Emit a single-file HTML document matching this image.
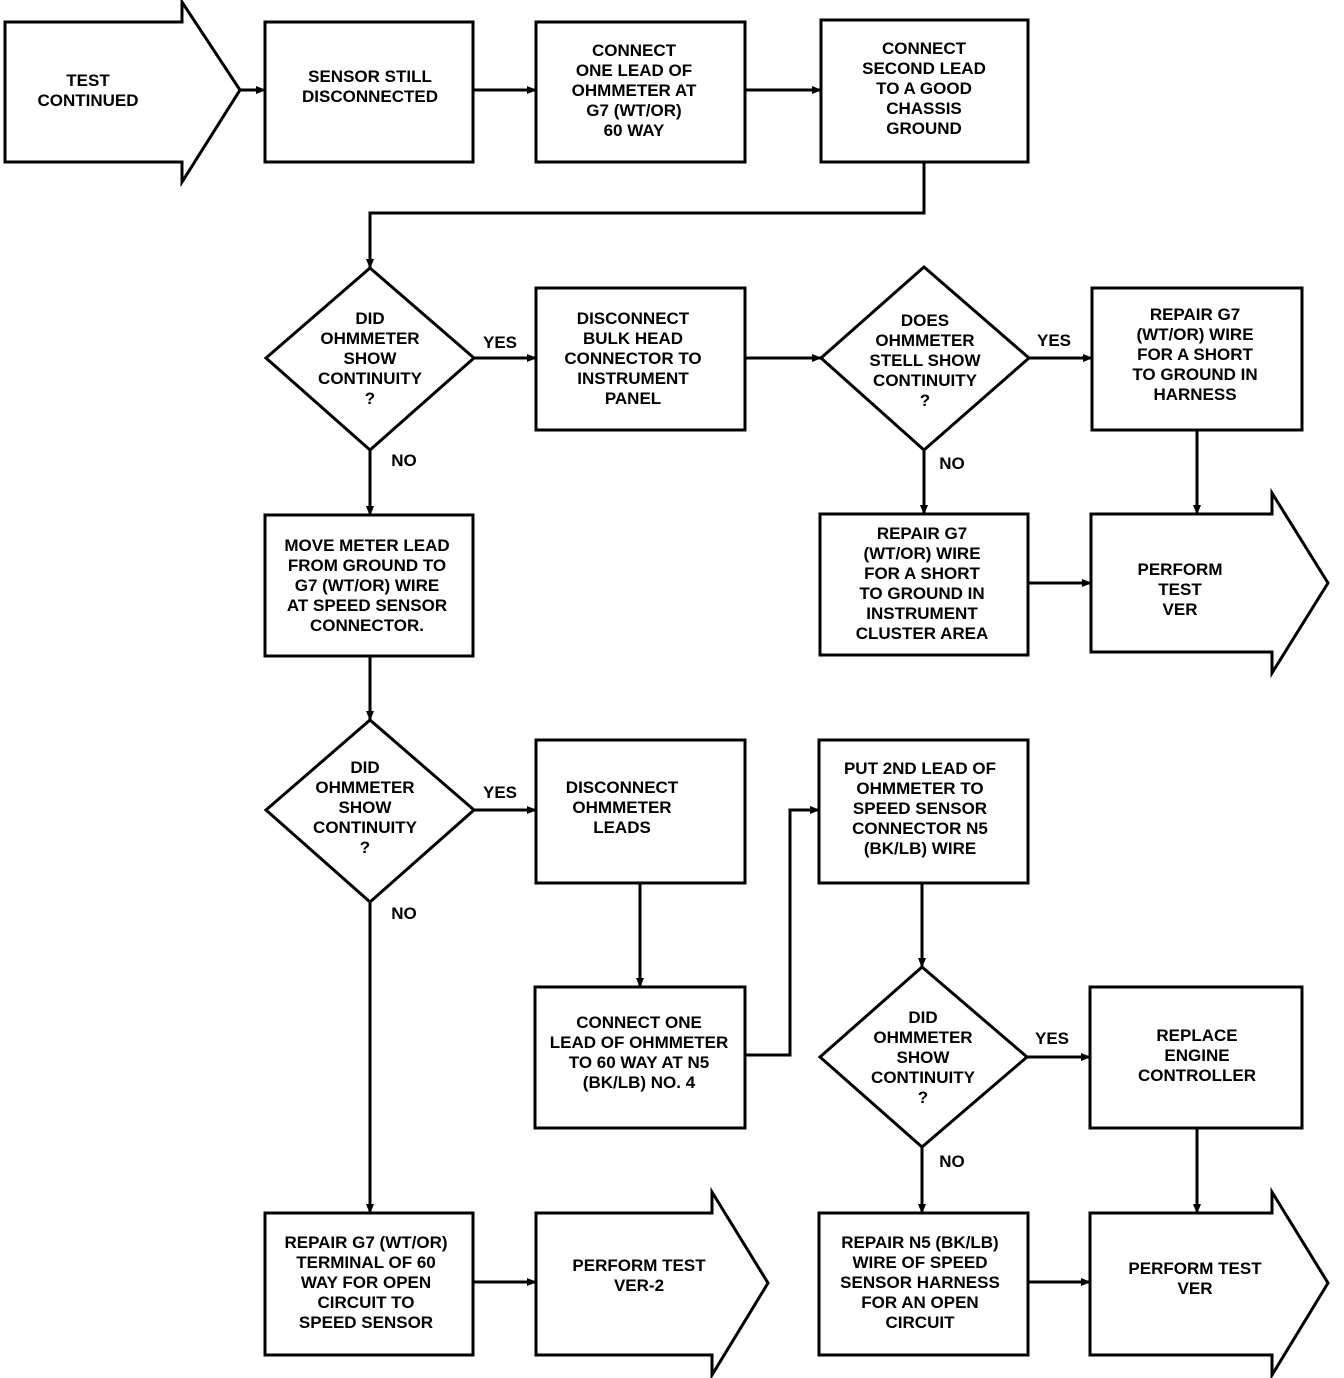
<!DOCTYPE html>
<html><head><meta charset="utf-8"><style>
html,body{margin:0;padding:0;background:#fff}
svg{display:block}
text{font-family:"Liberation Sans",Arial,sans-serif;font-weight:bold;font-size:17px;fill:#000;text-anchor:middle}
.s{fill:#fff;stroke:#000;stroke-width:3}
.l{fill:none;stroke:#000;stroke-width:3}
</style></head><body>
<svg width="1344" height="1378" viewBox="0 0 1344 1378" xmlns="http://www.w3.org/2000/svg">
<defs><marker id="a" markerWidth="10" markerHeight="10" refX="9" refY="5" orient="auto" markerUnits="userSpaceOnUse"><path d="M0,1 L10,5 L0,9 z" fill="#000"/></marker></defs>

<!-- shapes -->
<path class="s" d="M5,22 H182 V2 L240,90 L182,182 V162 H5 Z"/>
<rect class="s" x="265" y="22" width="208" height="140"/>
<rect class="s" x="536" y="22" width="209" height="140"/>
<rect class="s" x="821" y="20" width="207" height="142"/>

<path class="s" d="M370,268 L474,358 L370,450 L266,358 Z"/>
<rect class="s" x="536" y="288" width="209" height="142"/>
<path class="s" d="M924,267 L1029,358 L924,450 L821,358 Z"/>
<rect class="s" x="1092" y="288" width="210" height="142"/>

<rect class="s" x="265" y="515" width="208" height="141"/>
<rect class="s" x="820" y="514" width="208" height="141"/>
<path class="s" d="M1091,514 H1272 V493 L1328,583 L1272,673 V652 H1091 Z"/>

<path class="s" d="M370,720 L474,810 L370,902 L266,810 Z"/>
<rect class="s" x="536" y="740" width="209" height="143"/>
<rect class="s" x="819" y="740" width="209" height="143"/>
<rect class="s" x="535" y="987" width="210" height="141"/>
<path class="s" d="M922,967 L1027,1057 L922,1147 L820,1057 Z"/>
<rect class="s" x="1090" y="987" width="212" height="141"/>

<rect class="s" x="265" y="1213" width="208" height="142"/>
<path class="s" d="M536,1213 H712 V1192 L768,1283 L712,1375 V1355 H536 Z"/>
<rect class="s" x="819" y="1213" width="209" height="142"/>
<path class="s" d="M1090,1213 H1272 V1192 L1328,1283 L1272,1375 V1355 H1090 Z"/>

<!-- connectors -->
<path class="l" d="M240,90 H265" marker-end="url(#a)"/>
<path class="l" d="M473,90 H536" marker-end="url(#a)"/>
<path class="l" d="M745,90 H821" marker-end="url(#a)"/>
<path class="l" d="M924,162 V213 H370 V268" marker-end="url(#a)"/>
<path class="l" d="M474,358 H536" marker-end="url(#a)"/>
<path class="l" d="M745,358 H821" marker-end="url(#a)"/>
<path class="l" d="M1029,358 H1092" marker-end="url(#a)"/>
<path class="l" d="M1197,430 V514" marker-end="url(#a)"/>
<path class="l" d="M924,450 V514" marker-end="url(#a)"/>
<path class="l" d="M1028,583 H1091" marker-end="url(#a)"/>
<path class="l" d="M370,450 V515" marker-end="url(#a)"/>
<path class="l" d="M370,656 V720" marker-end="url(#a)"/>
<path class="l" d="M474,810 H536" marker-end="url(#a)"/>
<path class="l" d="M640,883 V987" marker-end="url(#a)"/>
<path class="l" d="M745,1055 H790 V810 H819" marker-end="url(#a)"/>
<path class="l" d="M922,883 V967" marker-end="url(#a)"/>
<path class="l" d="M1027,1057 H1090" marker-end="url(#a)"/>
<path class="l" d="M1197,1128 V1213" marker-end="url(#a)"/>
<path class="l" d="M922,1147 V1213" marker-end="url(#a)"/>
<path class="l" d="M1028,1282 H1090" marker-end="url(#a)"/>
<path class="l" d="M370,902 V1213" marker-end="url(#a)"/>
<path class="l" d="M473,1282 H536" marker-end="url(#a)"/>

<!-- labels -->
<text x="500" y="348">YES</text>
<text x="404" y="466">NO</text>
<text x="1054" y="346">YES</text>
<text x="952" y="469">NO</text>
<text x="500" y="798">YES</text>
<text x="404" y="919">NO</text>
<text x="1052" y="1044">YES</text>
<text x="952" y="1167">NO</text>

<!-- text -->
<text x="88" y="86">TEST</text><text x="88" y="106">CONTINUED</text>
<text x="370" y="82">SENSOR STILL</text><text x="370" y="102">DISCONNECTED</text>
<text x="634" y="56">CONNECT</text><text x="634" y="76">ONE LEAD OF</text><text x="634" y="96">OHMMETER AT</text><text x="634" y="116">G7 (WT/OR)</text><text x="634" y="136">60 WAY</text>
<text x="924" y="54">CONNECT</text><text x="924" y="74">SECOND LEAD</text><text x="924" y="94">TO A GOOD</text><text x="924" y="114">CHASSIS</text><text x="924" y="134">GROUND</text>

<text x="370" y="324">DID</text><text x="370" y="344">OHMMETER</text><text x="370" y="364">SHOW</text><text x="370" y="384">CONTINUITY</text><text x="370" y="404">?</text>
<text x="633" y="324">DISCONNECT</text><text x="633" y="344">BULK HEAD</text><text x="633" y="364">CONNECTOR TO</text><text x="633" y="384">INSTRUMENT</text><text x="633" y="404">PANEL</text>
<text x="925" y="326">DOES</text><text x="925" y="346">OHMMETER</text><text x="925" y="366">STELL SHOW</text><text x="925" y="386">CONTINUITY</text><text x="925" y="406">?</text>
<text x="1195" y="320">REPAIR G7</text><text x="1195" y="340">(WT/OR) WIRE</text><text x="1195" y="360">FOR A SHORT</text><text x="1195" y="380">TO GROUND IN</text><text x="1195" y="400">HARNESS</text>

<text x="367" y="551">MOVE METER LEAD</text><text x="367" y="571">FROM GROUND TO</text><text x="367" y="591">G7 (WT/OR) WIRE</text><text x="367" y="611">AT SPEED SENSOR</text><text x="367" y="631">CONNECTOR.</text>
<text x="922" y="539">REPAIR G7</text><text x="922" y="559">(WT/OR) WIRE</text><text x="922" y="579">FOR A SHORT</text><text x="922" y="599">TO GROUND IN</text><text x="922" y="619">INSTRUMENT</text><text x="922" y="639">CLUSTER AREA</text>
<text x="1180" y="575">PERFORM</text><text x="1180" y="595">TEST</text><text x="1180" y="615">VER</text>

<text x="365" y="773">DID</text><text x="365" y="793">OHMMETER</text><text x="365" y="813">SHOW</text><text x="365" y="833">CONTINUITY</text><text x="365" y="853">?</text>
<text x="622" y="793">DISCONNECT</text><text x="622" y="813">OHMMETER</text><text x="622" y="833">LEADS</text>
<text x="920" y="774">PUT 2ND LEAD OF</text><text x="920" y="794">OHMMETER TO</text><text x="920" y="814">SPEED SENSOR</text><text x="920" y="834">CONNECTOR N5</text><text x="920" y="854">(BK/LB) WIRE</text>
<text x="639" y="1028">CONNECT ONE</text><text x="639" y="1048">LEAD OF OHMMETER</text><text x="639" y="1068">TO 60 WAY AT N5</text><text x="639" y="1088">(BK/LB) NO. 4</text>
<text x="923" y="1023">DID</text><text x="923" y="1043">OHMMETER</text><text x="923" y="1063">SHOW</text><text x="923" y="1083">CONTINUITY</text><text x="923" y="1103">?</text>
<text x="1197" y="1041">REPLACE</text><text x="1197" y="1061">ENGINE</text><text x="1197" y="1081">CONTROLLER</text>

<text x="366" y="1248">REPAIR G7 (WT/OR)</text><text x="366" y="1268">TERMINAL OF 60</text><text x="366" y="1288">WAY FOR OPEN</text><text x="366" y="1308">CIRCUIT TO</text><text x="366" y="1328">SPEED SENSOR</text>
<text x="639" y="1271">PERFORM TEST</text><text x="639" y="1291">VER-2</text>
<text x="920" y="1248">REPAIR N5 (BK/LB)</text><text x="920" y="1268">WIRE OF SPEED</text><text x="920" y="1288">SENSOR HARNESS</text><text x="920" y="1308">FOR AN OPEN</text><text x="920" y="1328">CIRCUIT</text>
<text x="1195" y="1274">PERFORM TEST</text><text x="1195" y="1294">VER</text>
</svg>
</body></html>
